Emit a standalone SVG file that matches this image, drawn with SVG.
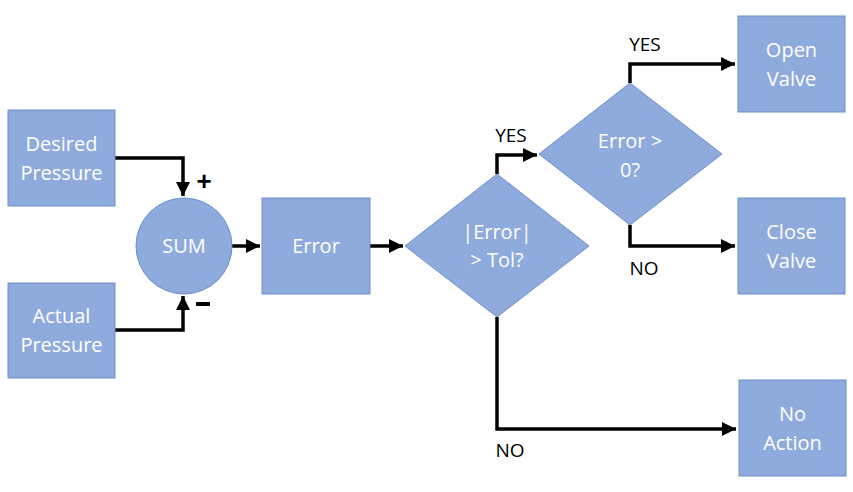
<svg xmlns="http://www.w3.org/2000/svg" width="853" height="492" viewBox="0 0 853 492">
<style>
.n{fill:#8faadc;stroke:#6f8fc9;stroke-width:1}
.t{font-family:"Open Sans","Liberation Sans",sans-serif;font-size:20px;fill:#fff;text-anchor:middle}
.l{font-family:"Open Sans","Liberation Sans",sans-serif;font-size:19px;fill:#000;text-anchor:middle}
.c{fill:none;stroke:#000;stroke-width:3.5;marker-end:url(#a)}
.s{font-family:"Liberation Sans",sans-serif;font-size:26px;font-weight:bold;fill:#000;text-anchor:middle}
</style>
<defs>
<marker id="a" markerWidth="4" markerHeight="4" refX="4" refY="2" orient="auto" markerUnits="strokeWidth">
<path d="M0,0 L4,2 L0,4 Z" fill="#000"/>
</marker>
</defs>
<rect width="853" height="492" fill="#fff"/>
<g id="connectors">
<path class="c" d="M115,158 H183 V196"/>
<path class="c" d="M115,330 H183 V296"/>
<path class="c" d="M232,246 H260"/>
<path class="c" d="M370,246 H403"/>
<path class="c" d="M497,174 V155 H537"/>
<path class="c" d="M630,83 V64 H735"/>
<path class="c" d="M630,225 V246 H735"/>
<path class="c" d="M497,317 V429 H736"/>
</g>
<g id="labels">
<text class="s" x="204" y="190">+</text>
<rect x="196" y="302" width="14" height="4" fill="#000"/>
<text class="l" x="511" y="142">YES</text>
<text class="l" x="645" y="51">YES</text>
<text class="l" x="644" y="275">NO</text>
<text class="l" x="510" y="457">NO</text>
</g>
<g id="desired">
<rect class="n" x="8" y="110" width="107" height="96"/>
<text class="t" x="61.5" y="151">Desired</text>
<text class="t" x="61.5" y="180">Pressure</text>
</g>
<g id="actual">
<rect class="n" x="8" y="283" width="107" height="95"/>
<text class="t" x="61.5" y="323">Actual</text>
<text class="t" x="61.5" y="352">Pressure</text>
</g>
<g id="sum">
<circle class="n" cx="184" cy="246" r="48"/>
<text class="t" x="184" y="253">SUM</text>
</g>
<g id="error">
<rect class="n" x="262" y="198" width="108" height="96"/>
<text class="t" x="316" y="253">Error</text>
</g>
<g id="tol">
<polygon class="n" points="497,174 589,246 497,317 405,246"/>
<text class="t" x="497" y="239">|Error|</text>
<text class="t" x="497" y="267">&gt; Tol?</text>
</g>
<g id="sign">
<polygon class="n" points="630,83 722,154 630,225 539,154"/>
<text class="t" x="630" y="148">Error &gt;</text>
<text class="t" x="630" y="177">0?</text>
</g>
<g id="open">
<rect class="n" x="738" y="16" width="107" height="96"/>
<text class="t" x="791.5" y="57">Open</text>
<text class="t" x="791.5" y="86">Valve</text>
</g>
<g id="close">
<rect class="n" x="738" y="198" width="107" height="96"/>
<text class="t" x="791.5" y="239">Close</text>
<text class="t" x="791.5" y="268">Valve</text>
</g>
<g id="noaction">
<rect class="n" x="739" y="380" width="107" height="96"/>
<text class="t" x="792.5" y="421">No</text>
<text class="t" x="792.5" y="450">Action</text>
</g>
</svg>
